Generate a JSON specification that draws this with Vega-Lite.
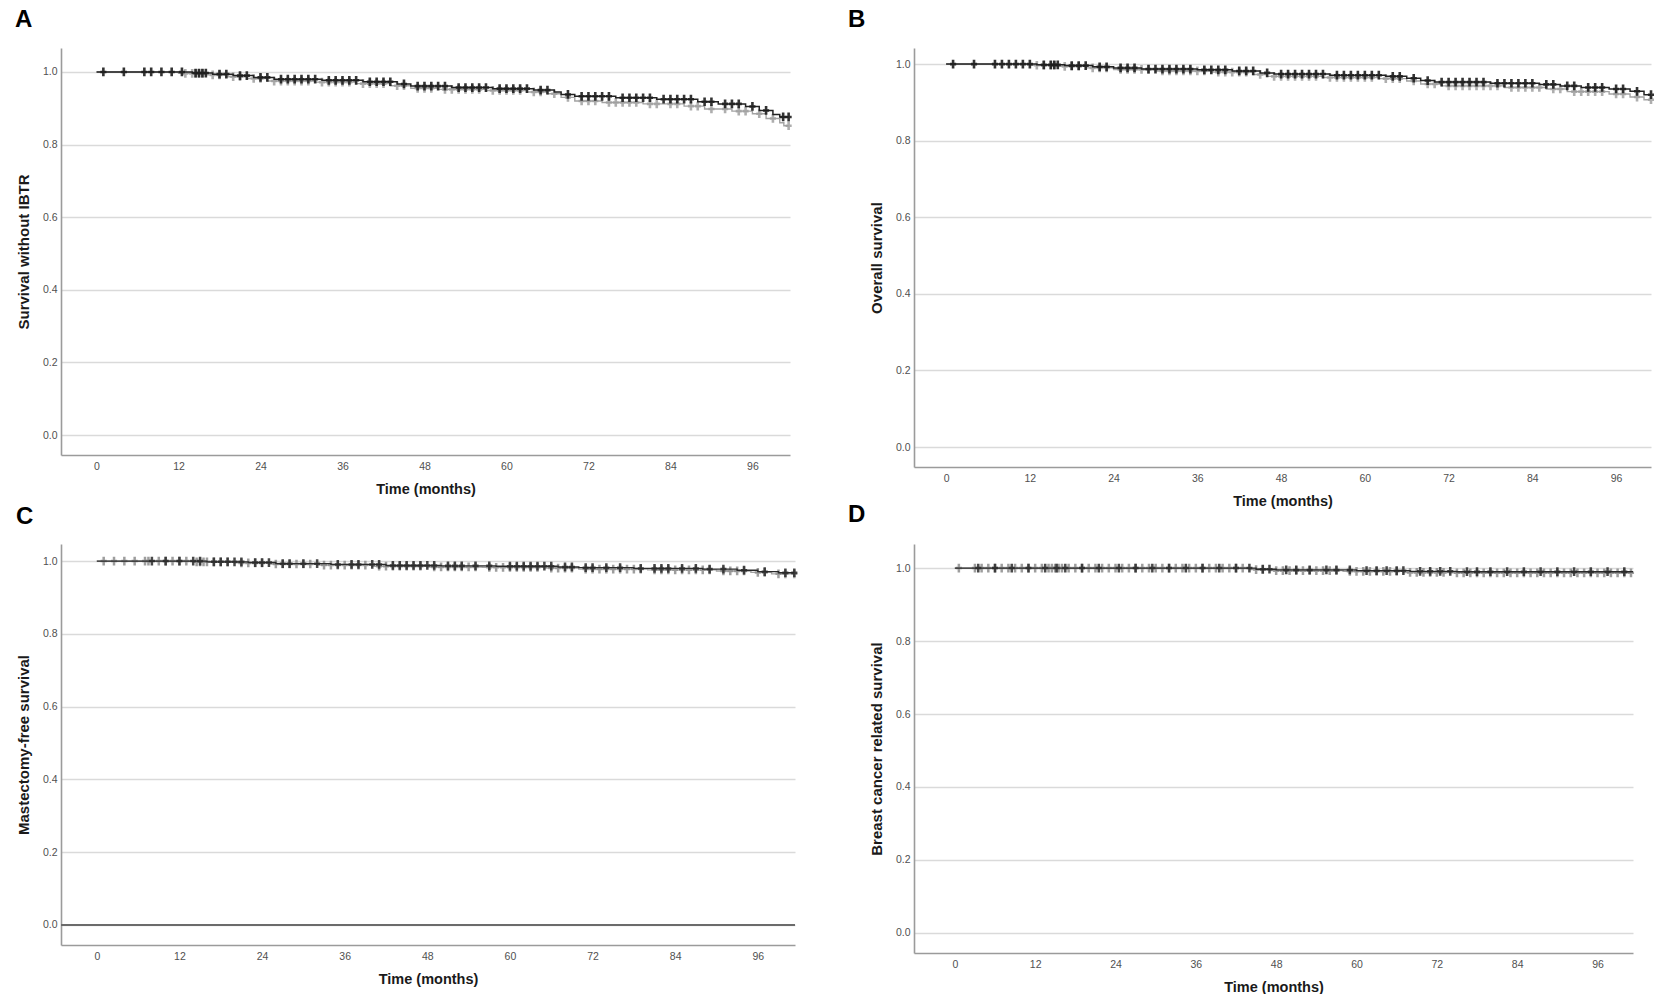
{
  "$schema": "https://vega.github.io/schema/vega-lite/v6.json",
  "padding": {"left": 15, "top": 8, "right": 0, "bottom": 0},
  "columns": 2,
  "bounds": "flush",
  "spacing": {"row": 77, "column": 119},
  "datasets": {
    "A": [
      {"g":"gray","t":0,"s":1,"c":0},{"g":"gray","t":12,"s":0.996,"c":0},{"g":"gray","t":13,"s":0.996,"c":1},{"g":"gray","t":14,"s":0.996,"c":1},{"g":"gray","t":14.5,"s":0.996,"c":1},{"g":"gray","t":15,"s":0.996,"c":1},{"g":"gray","t":15.5,"s":0.996,"c":1},{"g":"gray","t":16,"s":0.992,"c":0},{"g":"gray","t":17,"s":0.992,"c":1},{"g":"gray","t":18,"s":0.992,"c":1},{"g":"gray","t":19,"s":0.987,"c":0},{"g":"gray","t":20,"s":0.987,"c":1},{"g":"gray","t":21,"s":0.987,"c":1},{"g":"gray","t":22,"s":0.982,"c":0},{"g":"gray","t":23,"s":0.982,"c":1},{"g":"gray","t":24,"s":0.982,"c":1},{"g":"gray","t":25,"s":0.975,"c":0},{"g":"gray","t":26,"s":0.975,"c":1},{"g":"gray","t":27,"s":0.975,"c":1},{"g":"gray","t":28,"s":0.975,"c":1},{"g":"gray","t":29,"s":0.975,"c":1},{"g":"gray","t":30,"s":0.975,"c":1},{"g":"gray","t":31,"s":0.975,"c":1},{"g":"gray","t":32,"s":0.972,"c":0},{"g":"gray","t":33,"s":0.972,"c":1},{"g":"gray","t":34,"s":0.972,"c":1},{"g":"gray","t":35,"s":0.972,"c":1},{"g":"gray","t":36,"s":0.972,"c":1},{"g":"gray","t":37,"s":0.972,"c":1},{"g":"gray","t":38,"s":0.968,"c":0},{"g":"gray","t":39,"s":0.968,"c":1},{"g":"gray","t":40,"s":0.968,"c":1},{"g":"gray","t":41,"s":0.968,"c":1},{"g":"gray","t":42,"s":0.968,"c":1},{"g":"gray","t":43,"s":0.962,"c":0},{"g":"gray","t":44,"s":0.962,"c":1},{"g":"gray","t":45,"s":0.962,"c":1},{"g":"gray","t":46,"s":0.955,"c":0},{"g":"gray","t":47,"s":0.955,"c":1},{"g":"gray","t":48,"s":0.955,"c":1},{"g":"gray","t":49,"s":0.955,"c":1},{"g":"gray","t":50,"s":0.952,"c":0},{"g":"gray","t":51,"s":0.952,"c":1},{"g":"gray","t":52,"s":0.952,"c":1},{"g":"gray","t":53,"s":0.952,"c":1},{"g":"gray","t":54,"s":0.952,"c":1},{"g":"gray","t":55,"s":0.952,"c":1},{"g":"gray","t":56,"s":0.952,"c":1},{"g":"gray","t":57,"s":0.949,"c":0},{"g":"gray","t":58,"s":0.949,"c":1},{"g":"gray","t":59,"s":0.949,"c":1},{"g":"gray","t":60,"s":0.949,"c":1},{"g":"gray","t":61,"s":0.949,"c":1},{"g":"gray","t":62,"s":0.949,"c":1},{"g":"gray","t":63,"s":0.945,"c":0},{"g":"gray","t":64,"s":0.945,"c":1},{"g":"gray","t":65,"s":0.945,"c":1},{"g":"gray","t":66,"s":0.94,"c":0},{"g":"gray","t":67,"s":0.94,"c":1},{"g":"gray","t":68,"s":0.93,"c":0},{"g":"gray","t":69,"s":0.93,"c":1},{"g":"gray","t":70,"s":0.92,"c":0},{"g":"gray","t":71,"s":0.92,"c":1},{"g":"gray","t":72,"s":0.92,"c":1},{"g":"gray","t":73,"s":0.92,"c":1},{"g":"gray","t":74,"s":0.916,"c":0},{"g":"gray","t":75,"s":0.916,"c":1},{"g":"gray","t":76,"s":0.916,"c":1},{"g":"gray","t":77,"s":0.916,"c":1},{"g":"gray","t":78,"s":0.916,"c":1},{"g":"gray","t":79,"s":0.916,"c":1},{"g":"gray","t":80,"s":0.912,"c":0},{"g":"gray","t":81,"s":0.912,"c":1},{"g":"gray","t":82,"s":0.912,"c":1},{"g":"gray","t":84,"s":0.912,"c":1},{"g":"gray","t":85,"s":0.912,"c":1},{"g":"gray","t":86,"s":0.906,"c":0},{"g":"gray","t":87,"s":0.906,"c":1},{"g":"gray","t":88,"s":0.906,"c":1},{"g":"gray","t":89,"s":0.898,"c":0},{"g":"gray","t":90,"s":0.898,"c":1},{"g":"gray","t":92,"s":0.898,"c":1},{"g":"gray","t":93,"s":0.892,"c":0},{"g":"gray","t":94,"s":0.892,"c":1},{"g":"gray","t":95,"s":0.892,"c":1},{"g":"gray","t":96,"s":0.885,"c":0},{"g":"gray","t":97,"s":0.885,"c":1},{"g":"gray","t":98,"s":0.872,"c":0},{"g":"gray","t":99,"s":0.872,"c":1},{"g":"gray","t":100,"s":0.86,"c":0},{"g":"gray","t":100.6,"s":0.852,"c":0},{"g":"gray","t":101.3,"s":0.852,"c":1},
      {"g":"black","t":0,"s":1,"c":0},{"g":"black","t":1,"s":1,"c":1},{"g":"black","t":4,"s":1,"c":1},{"g":"black","t":7,"s":1,"c":1},{"g":"black","t":8,"s":1,"c":1},{"g":"black","t":9.5,"s":1,"c":1},{"g":"black","t":11,"s":1,"c":1},{"g":"black","t":12.5,"s":1,"c":1},{"g":"black","t":14,"s":0.997,"c":0},{"g":"black","t":14.5,"s":0.997,"c":1},{"g":"black","t":15,"s":0.997,"c":1},{"g":"black","t":15.5,"s":0.997,"c":1},{"g":"black","t":16,"s":0.997,"c":1},{"g":"black","t":17,"s":0.994,"c":0},{"g":"black","t":18,"s":0.994,"c":1},{"g":"black","t":19,"s":0.994,"c":1},{"g":"black","t":20,"s":0.99,"c":0},{"g":"black","t":21,"s":0.99,"c":1},{"g":"black","t":22,"s":0.99,"c":1},{"g":"black","t":23,"s":0.985,"c":0},{"g":"black","t":24,"s":0.985,"c":1},{"g":"black","t":25,"s":0.985,"c":1},{"g":"black","t":26,"s":0.98,"c":0},{"g":"black","t":27,"s":0.98,"c":1},{"g":"black","t":28,"s":0.98,"c":1},{"g":"black","t":29,"s":0.98,"c":1},{"g":"black","t":30,"s":0.98,"c":1},{"g":"black","t":31,"s":0.98,"c":1},{"g":"black","t":32,"s":0.98,"c":1},{"g":"black","t":33,"s":0.977,"c":0},{"g":"black","t":34,"s":0.977,"c":1},{"g":"black","t":35,"s":0.977,"c":1},{"g":"black","t":36,"s":0.977,"c":1},{"g":"black","t":37,"s":0.977,"c":1},{"g":"black","t":38,"s":0.977,"c":1},{"g":"black","t":39,"s":0.973,"c":0},{"g":"black","t":40,"s":0.973,"c":1},{"g":"black","t":41,"s":0.973,"c":1},{"g":"black","t":42,"s":0.973,"c":1},{"g":"black","t":43,"s":0.973,"c":1},{"g":"black","t":44,"s":0.967,"c":0},{"g":"black","t":45,"s":0.967,"c":1},{"g":"black","t":46,"s":0.961,"c":0},{"g":"black","t":47,"s":0.961,"c":1},{"g":"black","t":48,"s":0.961,"c":1},{"g":"black","t":49,"s":0.961,"c":1},{"g":"black","t":50,"s":0.961,"c":1},{"g":"black","t":51,"s":0.961,"c":1},{"g":"black","t":52,"s":0.957,"c":0},{"g":"black","t":53,"s":0.957,"c":1},{"g":"black","t":54,"s":0.957,"c":1},{"g":"black","t":55,"s":0.957,"c":1},{"g":"black","t":56,"s":0.957,"c":1},{"g":"black","t":57,"s":0.957,"c":1},{"g":"black","t":58,"s":0.954,"c":0},{"g":"black","t":59,"s":0.954,"c":1},{"g":"black","t":60,"s":0.954,"c":1},{"g":"black","t":61,"s":0.954,"c":1},{"g":"black","t":62,"s":0.954,"c":1},{"g":"black","t":63,"s":0.954,"c":1},{"g":"black","t":64,"s":0.95,"c":0},{"g":"black","t":65,"s":0.95,"c":1},{"g":"black","t":66,"s":0.95,"c":1},{"g":"black","t":67,"s":0.945,"c":0},{"g":"black","t":68,"s":0.938,"c":0},{"g":"black","t":69,"s":0.938,"c":1},{"g":"black","t":70,"s":0.933,"c":0},{"g":"black","t":71,"s":0.933,"c":1},{"g":"black","t":72,"s":0.933,"c":1},{"g":"black","t":73,"s":0.933,"c":1},{"g":"black","t":74,"s":0.933,"c":1},{"g":"black","t":75,"s":0.933,"c":1},{"g":"black","t":76,"s":0.929,"c":0},{"g":"black","t":77,"s":0.929,"c":1},{"g":"black","t":78,"s":0.929,"c":1},{"g":"black","t":79,"s":0.929,"c":1},{"g":"black","t":80,"s":0.929,"c":1},{"g":"black","t":81,"s":0.929,"c":1},{"g":"black","t":82,"s":0.925,"c":0},{"g":"black","t":83,"s":0.925,"c":1},{"g":"black","t":84,"s":0.925,"c":1},{"g":"black","t":85,"s":0.925,"c":1},{"g":"black","t":86,"s":0.925,"c":1},{"g":"black","t":87,"s":0.925,"c":1},{"g":"black","t":88,"s":0.918,"c":0},{"g":"black","t":89,"s":0.918,"c":1},{"g":"black","t":90,"s":0.918,"c":1},{"g":"black","t":91,"s":0.912,"c":0},{"g":"black","t":92,"s":0.912,"c":1},{"g":"black","t":93,"s":0.912,"c":1},{"g":"black","t":94,"s":0.912,"c":1},{"g":"black","t":95,"s":0.905,"c":0},{"g":"black","t":96,"s":0.905,"c":1},{"g":"black","t":97,"s":0.894,"c":0},{"g":"black","t":98,"s":0.894,"c":1},{"g":"black","t":99,"s":0.883,"c":0},{"g":"black","t":100,"s":0.876,"c":0},{"g":"black","t":100.5,"s":0.876,"c":1},{"g":"black","t":101.3,"s":0.876,"c":1}
    ],
    "B": [
      {"g":"gray","t":0,"s":1,"c":0},{"g":"gray","t":12,"s":0.997,"c":0},{"g":"gray","t":13,"s":0.997,"c":1},{"g":"gray","t":14,"s":0.997,"c":1},{"g":"gray","t":15,"s":0.997,"c":1},{"g":"gray","t":15.5,"s":0.997,"c":1},{"g":"gray","t":16,"s":0.994,"c":0},{"g":"gray","t":17,"s":0.994,"c":1},{"g":"gray","t":18,"s":0.994,"c":1},{"g":"gray","t":19,"s":0.994,"c":1},{"g":"gray","t":20,"s":0.99,"c":0},{"g":"gray","t":21,"s":0.99,"c":1},{"g":"gray","t":22,"s":0.99,"c":1},{"g":"gray","t":23,"s":0.99,"c":1},{"g":"gray","t":24,"s":0.986,"c":0},{"g":"gray","t":25,"s":0.986,"c":1},{"g":"gray","t":26,"s":0.986,"c":1},{"g":"gray","t":27,"s":0.986,"c":1},{"g":"gray","t":28,"s":0.986,"c":1},{"g":"gray","t":29,"s":0.986,"c":1},{"g":"gray","t":30,"s":0.982,"c":0},{"g":"gray","t":31,"s":0.982,"c":1},{"g":"gray","t":32,"s":0.982,"c":1},{"g":"gray","t":33,"s":0.982,"c":1},{"g":"gray","t":34,"s":0.982,"c":1},{"g":"gray","t":35,"s":0.982,"c":1},{"g":"gray","t":36,"s":0.982,"c":1},{"g":"gray","t":37,"s":0.982,"c":1},{"g":"gray","t":38,"s":0.979,"c":0},{"g":"gray","t":39,"s":0.979,"c":1},{"g":"gray","t":40,"s":0.979,"c":1},{"g":"gray","t":41,"s":0.979,"c":1},{"g":"gray","t":42,"s":0.979,"c":1},{"g":"gray","t":43,"s":0.979,"c":1},{"g":"gray","t":44,"s":0.973,"c":0},{"g":"gray","t":45,"s":0.973,"c":1},{"g":"gray","t":46,"s":0.968,"c":0},{"g":"gray","t":47,"s":0.968,"c":1},{"g":"gray","t":48,"s":0.968,"c":1},{"g":"gray","t":49,"s":0.968,"c":1},{"g":"gray","t":50,"s":0.968,"c":1},{"g":"gray","t":51,"s":0.968,"c":1},{"g":"gray","t":52,"s":0.968,"c":1},{"g":"gray","t":53,"s":0.968,"c":1},{"g":"gray","t":54,"s":0.965,"c":0},{"g":"gray","t":55,"s":0.965,"c":1},{"g":"gray","t":56,"s":0.965,"c":1},{"g":"gray","t":57,"s":0.965,"c":1},{"g":"gray","t":58,"s":0.965,"c":1},{"g":"gray","t":59,"s":0.965,"c":1},{"g":"gray","t":60,"s":0.965,"c":1},{"g":"gray","t":61,"s":0.965,"c":1},{"g":"gray","t":62,"s":0.962,"c":0},{"g":"gray","t":63,"s":0.962,"c":1},{"g":"gray","t":64,"s":0.962,"c":1},{"g":"gray","t":65,"s":0.962,"c":1},{"g":"gray","t":66,"s":0.956,"c":0},{"g":"gray","t":67,"s":0.956,"c":1},{"g":"gray","t":68,"s":0.948,"c":0},{"g":"gray","t":69,"s":0.948,"c":1},{"g":"gray","t":70,"s":0.948,"c":1},{"g":"gray","t":71,"s":0.943,"c":0},{"g":"gray","t":72,"s":0.943,"c":1},{"g":"gray","t":73,"s":0.943,"c":1},{"g":"gray","t":74,"s":0.943,"c":1},{"g":"gray","t":75,"s":0.943,"c":1},{"g":"gray","t":76,"s":0.943,"c":1},{"g":"gray","t":77,"s":0.943,"c":1},{"g":"gray","t":78,"s":0.943,"c":1},{"g":"gray","t":79,"s":0.943,"c":1},{"g":"gray","t":80,"s":0.939,"c":0},{"g":"gray","t":81,"s":0.939,"c":1},{"g":"gray","t":82,"s":0.939,"c":1},{"g":"gray","t":83,"s":0.939,"c":1},{"g":"gray","t":84,"s":0.939,"c":1},{"g":"gray","t":85,"s":0.939,"c":1},{"g":"gray","t":86,"s":0.935,"c":0},{"g":"gray","t":87,"s":0.935,"c":1},{"g":"gray","t":88,"s":0.935,"c":1},{"g":"gray","t":89,"s":0.928,"c":0},{"g":"gray","t":90,"s":0.928,"c":1},{"g":"gray","t":91,"s":0.928,"c":1},{"g":"gray","t":92,"s":0.928,"c":1},{"g":"gray","t":93,"s":0.928,"c":1},{"g":"gray","t":94,"s":0.928,"c":1},{"g":"gray","t":95,"s":0.922,"c":0},{"g":"gray","t":96,"s":0.922,"c":1},{"g":"gray","t":97,"s":0.922,"c":1},{"g":"gray","t":98,"s":0.914,"c":0},{"g":"gray","t":99,"s":0.914,"c":1},{"g":"gray","t":100,"s":0.907,"c":0},{"g":"gray","t":101,"s":0.907,"c":1},
      {"g":"black","t":0,"s":1,"c":0},{"g":"black","t":1,"s":1,"c":1},{"g":"black","t":4,"s":1,"c":1},{"g":"black","t":7,"s":1,"c":1},{"g":"black","t":8,"s":1,"c":1},{"g":"black","t":9,"s":1,"c":1},{"g":"black","t":10,"s":1,"c":1},{"g":"black","t":11,"s":1,"c":1},{"g":"black","t":12,"s":1,"c":1},{"g":"black","t":13,"s":0.998,"c":0},{"g":"black","t":14,"s":0.998,"c":1},{"g":"black","t":15,"s":0.998,"c":1},{"g":"black","t":15.5,"s":0.998,"c":1},{"g":"black","t":16,"s":0.998,"c":1},{"g":"black","t":17,"s":0.996,"c":0},{"g":"black","t":18,"s":0.996,"c":1},{"g":"black","t":19,"s":0.996,"c":1},{"g":"black","t":20,"s":0.996,"c":1},{"g":"black","t":21,"s":0.993,"c":0},{"g":"black","t":22,"s":0.993,"c":1},{"g":"black","t":23,"s":0.993,"c":1},{"g":"black","t":24,"s":0.99,"c":0},{"g":"black","t":25,"s":0.99,"c":1},{"g":"black","t":26,"s":0.99,"c":1},{"g":"black","t":27,"s":0.99,"c":1},{"g":"black","t":28,"s":0.987,"c":0},{"g":"black","t":29,"s":0.987,"c":1},{"g":"black","t":30,"s":0.987,"c":1},{"g":"black","t":31,"s":0.987,"c":1},{"g":"black","t":32,"s":0.987,"c":1},{"g":"black","t":33,"s":0.987,"c":1},{"g":"black","t":34,"s":0.987,"c":1},{"g":"black","t":35,"s":0.987,"c":1},{"g":"black","t":36,"s":0.985,"c":0},{"g":"black","t":37,"s":0.985,"c":1},{"g":"black","t":38,"s":0.985,"c":1},{"g":"black","t":39,"s":0.985,"c":1},{"g":"black","t":40,"s":0.985,"c":1},{"g":"black","t":41,"s":0.982,"c":0},{"g":"black","t":42,"s":0.982,"c":1},{"g":"black","t":43,"s":0.982,"c":1},{"g":"black","t":44,"s":0.982,"c":1},{"g":"black","t":45,"s":0.977,"c":0},{"g":"black","t":46,"s":0.977,"c":1},{"g":"black","t":47,"s":0.974,"c":0},{"g":"black","t":48,"s":0.974,"c":1},{"g":"black","t":49,"s":0.974,"c":1},{"g":"black","t":50,"s":0.974,"c":1},{"g":"black","t":51,"s":0.974,"c":1},{"g":"black","t":52,"s":0.974,"c":1},{"g":"black","t":53,"s":0.974,"c":1},{"g":"black","t":54,"s":0.974,"c":1},{"g":"black","t":55,"s":0.971,"c":0},{"g":"black","t":56,"s":0.971,"c":1},{"g":"black","t":57,"s":0.971,"c":1},{"g":"black","t":58,"s":0.971,"c":1},{"g":"black","t":59,"s":0.971,"c":1},{"g":"black","t":60,"s":0.971,"c":1},{"g":"black","t":61,"s":0.971,"c":1},{"g":"black","t":62,"s":0.971,"c":1},{"g":"black","t":63,"s":0.968,"c":0},{"g":"black","t":64,"s":0.968,"c":1},{"g":"black","t":65,"s":0.968,"c":1},{"g":"black","t":66,"s":0.963,"c":0},{"g":"black","t":67,"s":0.963,"c":1},{"g":"black","t":68,"s":0.957,"c":0},{"g":"black","t":69,"s":0.957,"c":1},{"g":"black","t":70,"s":0.953,"c":0},{"g":"black","t":71,"s":0.953,"c":1},{"g":"black","t":72,"s":0.953,"c":1},{"g":"black","t":73,"s":0.953,"c":1},{"g":"black","t":74,"s":0.953,"c":1},{"g":"black","t":75,"s":0.953,"c":1},{"g":"black","t":76,"s":0.953,"c":1},{"g":"black","t":77,"s":0.953,"c":1},{"g":"black","t":78,"s":0.95,"c":0},{"g":"black","t":79,"s":0.95,"c":1},{"g":"black","t":80,"s":0.95,"c":1},{"g":"black","t":81,"s":0.95,"c":1},{"g":"black","t":82,"s":0.95,"c":1},{"g":"black","t":83,"s":0.95,"c":1},{"g":"black","t":84,"s":0.95,"c":1},{"g":"black","t":85,"s":0.947,"c":0},{"g":"black","t":86,"s":0.947,"c":1},{"g":"black","t":87,"s":0.947,"c":1},{"g":"black","t":88,"s":0.943,"c":0},{"g":"black","t":89,"s":0.943,"c":1},{"g":"black","t":90,"s":0.943,"c":1},{"g":"black","t":91,"s":0.939,"c":0},{"g":"black","t":92,"s":0.939,"c":1},{"g":"black","t":93,"s":0.939,"c":1},{"g":"black","t":94,"s":0.939,"c":1},{"g":"black","t":95,"s":0.935,"c":0},{"g":"black","t":96,"s":0.935,"c":1},{"g":"black","t":97,"s":0.935,"c":1},{"g":"black","t":98,"s":0.929,"c":0},{"g":"black","t":99,"s":0.929,"c":1},{"g":"black","t":100,"s":0.92,"c":0},{"g":"black","t":101,"s":0.92,"c":1}
    ],
    "C": [
      {"g":"gray","t":0,"s":1,"c":0},{"g":"gray","t":1,"s":1,"c":1},{"g":"gray","t":2.5,"s":1,"c":1},{"g":"gray","t":4,"s":1,"c":1},{"g":"gray","t":5.5,"s":1,"c":1},{"g":"gray","t":7,"s":1,"c":1},{"g":"gray","t":7.5,"s":1,"c":1},{"g":"gray","t":9,"s":1,"c":1},{"g":"gray","t":10,"s":1,"c":1},{"g":"gray","t":11,"s":1,"c":1},{"g":"gray","t":12,"s":1,"c":1},{"g":"gray","t":13,"s":1,"c":1},{"g":"gray","t":14,"s":0.998,"c":0},{"g":"gray","t":14.5,"s":0.998,"c":1},{"g":"gray","t":15,"s":0.998,"c":1},{"g":"gray","t":15.5,"s":0.998,"c":1},{"g":"gray","t":16,"s":0.998,"c":1},{"g":"gray","t":17,"s":0.998,"c":1},{"g":"gray","t":18,"s":0.998,"c":1},{"g":"gray","t":19,"s":0.998,"c":1},{"g":"gray","t":20,"s":0.995,"c":0},{"g":"gray","t":21,"s":0.995,"c":1},{"g":"gray","t":22,"s":0.995,"c":1},{"g":"gray","t":23,"s":0.995,"c":1},{"g":"gray","t":24,"s":0.995,"c":1},{"g":"gray","t":25,"s":0.992,"c":0},{"g":"gray","t":26,"s":0.992,"c":1},{"g":"gray","t":27,"s":0.992,"c":1},{"g":"gray","t":28,"s":0.992,"c":1},{"g":"gray","t":29,"s":0.992,"c":1},{"g":"gray","t":30,"s":0.992,"c":1},{"g":"gray","t":31,"s":0.992,"c":1},{"g":"gray","t":32,"s":0.989,"c":0},{"g":"gray","t":33,"s":0.989,"c":1},{"g":"gray","t":34,"s":0.989,"c":1},{"g":"gray","t":35,"s":0.989,"c":1},{"g":"gray","t":36,"s":0.989,"c":1},{"g":"gray","t":37,"s":0.989,"c":1},{"g":"gray","t":38,"s":0.989,"c":1},{"g":"gray","t":39,"s":0.989,"c":1},{"g":"gray","t":40,"s":0.986,"c":0},{"g":"gray","t":41,"s":0.986,"c":1},{"g":"gray","t":42,"s":0.986,"c":1},{"g":"gray","t":43,"s":0.986,"c":1},{"g":"gray","t":44,"s":0.986,"c":1},{"g":"gray","t":45,"s":0.986,"c":1},{"g":"gray","t":46,"s":0.986,"c":1},{"g":"gray","t":47,"s":0.986,"c":1},{"g":"gray","t":48,"s":0.984,"c":0},{"g":"gray","t":49,"s":0.984,"c":1},{"g":"gray","t":50,"s":0.984,"c":1},{"g":"gray","t":51,"s":0.984,"c":1},{"g":"gray","t":52,"s":0.984,"c":1},{"g":"gray","t":53,"s":0.984,"c":1},{"g":"gray","t":54,"s":0.984,"c":1},{"g":"gray","t":55,"s":0.984,"c":1},{"g":"gray","t":56,"s":0.983,"c":0},{"g":"gray","t":57,"s":0.983,"c":1},{"g":"gray","t":58,"s":0.983,"c":1},{"g":"gray","t":59,"s":0.983,"c":1},{"g":"gray","t":60,"s":0.983,"c":1},{"g":"gray","t":61,"s":0.983,"c":1},{"g":"gray","t":62,"s":0.983,"c":1},{"g":"gray","t":63,"s":0.983,"c":1},{"g":"gray","t":64,"s":0.983,"c":1},{"g":"gray","t":65,"s":0.981,"c":0},{"g":"gray","t":66,"s":0.981,"c":1},{"g":"gray","t":67,"s":0.981,"c":1},{"g":"gray","t":68,"s":0.981,"c":1},{"g":"gray","t":69,"s":0.981,"c":1},{"g":"gray","t":70,"s":0.978,"c":0},{"g":"gray","t":71,"s":0.978,"c":1},{"g":"gray","t":72,"s":0.978,"c":1},{"g":"gray","t":73,"s":0.978,"c":1},{"g":"gray","t":74,"s":0.978,"c":1},{"g":"gray","t":75,"s":0.978,"c":1},{"g":"gray","t":76,"s":0.978,"c":1},{"g":"gray","t":77,"s":0.978,"c":1},{"g":"gray","t":78,"s":0.978,"c":1},{"g":"gray","t":79,"s":0.978,"c":1},{"g":"gray","t":80,"s":0.976,"c":0},{"g":"gray","t":81,"s":0.976,"c":1},{"g":"gray","t":82,"s":0.976,"c":1},{"g":"gray","t":83,"s":0.976,"c":1},{"g":"gray","t":84,"s":0.976,"c":1},{"g":"gray","t":85,"s":0.976,"c":1},{"g":"gray","t":86,"s":0.976,"c":1},{"g":"gray","t":87,"s":0.976,"c":1},{"g":"gray","t":88,"s":0.976,"c":1},{"g":"gray","t":89,"s":0.976,"c":1},{"g":"gray","t":90,"s":0.973,"c":0},{"g":"gray","t":91,"s":0.973,"c":1},{"g":"gray","t":92,"s":0.973,"c":1},{"g":"gray","t":93,"s":0.973,"c":1},{"g":"gray","t":94,"s":0.973,"c":1},{"g":"gray","t":95,"s":0.969,"c":0},{"g":"gray","t":96,"s":0.969,"c":1},{"g":"gray","t":97,"s":0.969,"c":1},{"g":"gray","t":98,"s":0.965,"c":0},{"g":"gray","t":99,"s":0.965,"c":1},{"g":"gray","t":100,"s":0.965,"c":1},{"g":"gray","t":101.3,"s":0.965,"c":1},
      {"g":"black","t":0,"s":1,"c":0},{"g":"black","t":8,"s":1,"c":1},{"g":"black","t":10,"s":1,"c":1},{"g":"black","t":12,"s":1,"c":1},{"g":"black","t":14,"s":1,"c":1},{"g":"black","t":15,"s":1,"c":1},{"g":"black","t":16,"s":0.998,"c":0},{"g":"black","t":17,"s":0.998,"c":1},{"g":"black","t":18,"s":0.998,"c":1},{"g":"black","t":19,"s":0.998,"c":1},{"g":"black","t":20,"s":0.998,"c":1},{"g":"black","t":21,"s":0.998,"c":1},{"g":"black","t":22,"s":0.996,"c":0},{"g":"black","t":23,"s":0.996,"c":1},{"g":"black","t":24,"s":0.996,"c":1},{"g":"black","t":25,"s":0.996,"c":1},{"g":"black","t":26,"s":0.993,"c":0},{"g":"black","t":27,"s":0.993,"c":1},{"g":"black","t":28,"s":0.993,"c":1},{"g":"black","t":30,"s":0.993,"c":1},{"g":"black","t":32,"s":0.993,"c":1},{"g":"black","t":34,"s":0.991,"c":0},{"g":"black","t":35,"s":0.991,"c":1},{"g":"black","t":37,"s":0.991,"c":1},{"g":"black","t":38,"s":0.991,"c":1},{"g":"black","t":40,"s":0.991,"c":1},{"g":"black","t":41,"s":0.991,"c":1},{"g":"black","t":42,"s":0.988,"c":0},{"g":"black","t":43,"s":0.988,"c":1},{"g":"black","t":44,"s":0.988,"c":1},{"g":"black","t":45,"s":0.988,"c":1},{"g":"black","t":46,"s":0.988,"c":1},{"g":"black","t":47,"s":0.988,"c":1},{"g":"black","t":48,"s":0.988,"c":1},{"g":"black","t":49,"s":0.988,"c":1},{"g":"black","t":50,"s":0.987,"c":0},{"g":"black","t":51,"s":0.987,"c":1},{"g":"black","t":52,"s":0.987,"c":1},{"g":"black","t":53,"s":0.987,"c":1},{"g":"black","t":55,"s":0.987,"c":1},{"g":"black","t":57,"s":0.987,"c":1},{"g":"black","t":58,"s":0.986,"c":0},{"g":"black","t":60,"s":0.986,"c":1},{"g":"black","t":61,"s":0.986,"c":1},{"g":"black","t":62,"s":0.986,"c":1},{"g":"black","t":63,"s":0.986,"c":1},{"g":"black","t":64,"s":0.986,"c":1},{"g":"black","t":65,"s":0.986,"c":1},{"g":"black","t":66,"s":0.986,"c":1},{"g":"black","t":67,"s":0.984,"c":0},{"g":"black","t":68,"s":0.984,"c":1},{"g":"black","t":69,"s":0.984,"c":1},{"g":"black","t":70,"s":0.982,"c":0},{"g":"black","t":71,"s":0.982,"c":1},{"g":"black","t":72,"s":0.982,"c":1},{"g":"black","t":74,"s":0.982,"c":1},{"g":"black","t":76,"s":0.982,"c":1},{"g":"black","t":78,"s":0.98,"c":0},{"g":"black","t":79,"s":0.98,"c":1},{"g":"black","t":81,"s":0.98,"c":1},{"g":"black","t":82,"s":0.98,"c":1},{"g":"black","t":83,"s":0.98,"c":1},{"g":"black","t":85,"s":0.98,"c":1},{"g":"black","t":87,"s":0.98,"c":1},{"g":"black","t":88,"s":0.978,"c":0},{"g":"black","t":89,"s":0.978,"c":1},{"g":"black","t":91,"s":0.978,"c":1},{"g":"black","t":93,"s":0.975,"c":0},{"g":"black","t":94,"s":0.975,"c":1},{"g":"black","t":96,"s":0.971,"c":0},{"g":"black","t":97,"s":0.971,"c":1},{"g":"black","t":99,"s":0.968,"c":0},{"g":"black","t":100,"s":0.968,"c":1},{"g":"black","t":101.3,"s":0.968,"c":1}
    ],
    "D": [
      {"g":"gray","t":0,"s":1,"c":0},{"g":"gray","t":0.6,"s":1,"c":1},{"g":"gray","t":3,"s":1,"c":1},{"g":"gray","t":4,"s":1,"c":1},{"g":"gray","t":5,"s":1,"c":1},{"g":"gray","t":6,"s":1,"c":1},{"g":"gray","t":7,"s":1,"c":1},{"g":"gray","t":8,"s":1,"c":1},{"g":"gray","t":9,"s":1,"c":1},{"g":"gray","t":10,"s":1,"c":1},{"g":"gray","t":11,"s":1,"c":1},{"g":"gray","t":12,"s":1,"c":1},{"g":"gray","t":13,"s":1,"c":1},{"g":"gray","t":14,"s":1,"c":1},{"g":"gray","t":14.5,"s":1,"c":1},{"g":"gray","t":15,"s":1,"c":1},{"g":"gray","t":15.5,"s":1,"c":1},{"g":"gray","t":16,"s":1,"c":1},{"g":"gray","t":17,"s":1,"c":1},{"g":"gray","t":18,"s":1,"c":1},{"g":"gray","t":19,"s":1,"c":1},{"g":"gray","t":20,"s":1,"c":1},{"g":"gray","t":21,"s":1,"c":1},{"g":"gray","t":22,"s":1,"c":1},{"g":"gray","t":23,"s":1,"c":1},{"g":"gray","t":24,"s":1,"c":1},{"g":"gray","t":25,"s":1,"c":1},{"g":"gray","t":26,"s":1,"c":1},{"g":"gray","t":27,"s":1,"c":1},{"g":"gray","t":28,"s":1,"c":1},{"g":"gray","t":29,"s":1,"c":1},{"g":"gray","t":30,"s":1,"c":1},{"g":"gray","t":31,"s":1,"c":1},{"g":"gray","t":32,"s":1,"c":1},{"g":"gray","t":33,"s":1,"c":1},{"g":"gray","t":34,"s":1,"c":1},{"g":"gray","t":35,"s":1,"c":1},{"g":"gray","t":36,"s":1,"c":1},{"g":"gray","t":37,"s":1,"c":1},{"g":"gray","t":38,"s":1,"c":1},{"g":"gray","t":39,"s":1,"c":1},{"g":"gray","t":40,"s":1,"c":1},{"g":"gray","t":41,"s":1,"c":1},{"g":"gray","t":42,"s":1,"c":1},{"g":"gray","t":43,"s":1,"c":1},{"g":"gray","t":44,"s":0.996,"c":0},{"g":"gray","t":45,"s":0.996,"c":1},{"g":"gray","t":46,"s":0.996,"c":1},{"g":"gray","t":47,"s":0.993,"c":0},{"g":"gray","t":48,"s":0.993,"c":1},{"g":"gray","t":49,"s":0.993,"c":1},{"g":"gray","t":50,"s":0.993,"c":1},{"g":"gray","t":51,"s":0.993,"c":1},{"g":"gray","t":52,"s":0.993,"c":1},{"g":"gray","t":53,"s":0.993,"c":1},{"g":"gray","t":54,"s":0.993,"c":1},{"g":"gray","t":55,"s":0.993,"c":1},{"g":"gray","t":56,"s":0.993,"c":1},{"g":"gray","t":57,"s":0.993,"c":1},{"g":"gray","t":58,"s":0.991,"c":0},{"g":"gray","t":59,"s":0.991,"c":1},{"g":"gray","t":60,"s":0.991,"c":1},{"g":"gray","t":61,"s":0.991,"c":1},{"g":"gray","t":62,"s":0.991,"c":1},{"g":"gray","t":63,"s":0.991,"c":1},{"g":"gray","t":64,"s":0.991,"c":1},{"g":"gray","t":65,"s":0.991,"c":1},{"g":"gray","t":66,"s":0.991,"c":1},{"g":"gray","t":67,"s":0.988,"c":0},{"g":"gray","t":68,"s":0.988,"c":1},{"g":"gray","t":69,"s":0.988,"c":1},{"g":"gray","t":70,"s":0.988,"c":1},{"g":"gray","t":71,"s":0.988,"c":1},{"g":"gray","t":72,"s":0.988,"c":1},{"g":"gray","t":73,"s":0.988,"c":1},{"g":"gray","t":74,"s":0.987,"c":0},{"g":"gray","t":75,"s":0.987,"c":1},{"g":"gray","t":76,"s":0.987,"c":1},{"g":"gray","t":77,"s":0.987,"c":1},{"g":"gray","t":78,"s":0.987,"c":1},{"g":"gray","t":79,"s":0.987,"c":1},{"g":"gray","t":80,"s":0.987,"c":1},{"g":"gray","t":81,"s":0.987,"c":1},{"g":"gray","t":82,"s":0.987,"c":1},{"g":"gray","t":83,"s":0.987,"c":1},{"g":"gray","t":84,"s":0.987,"c":1},{"g":"gray","t":85,"s":0.987,"c":1},{"g":"gray","t":86,"s":0.987,"c":1},{"g":"gray","t":87,"s":0.987,"c":1},{"g":"gray","t":88,"s":0.987,"c":1},{"g":"gray","t":89,"s":0.987,"c":1},{"g":"gray","t":90,"s":0.987,"c":1},{"g":"gray","t":91,"s":0.987,"c":1},{"g":"gray","t":92,"s":0.987,"c":1},{"g":"gray","t":93,"s":0.987,"c":1},{"g":"gray","t":94,"s":0.987,"c":1},{"g":"gray","t":95,"s":0.987,"c":1},{"g":"gray","t":96,"s":0.987,"c":1},{"g":"gray","t":97,"s":0.987,"c":1},{"g":"gray","t":98,"s":0.987,"c":1},{"g":"gray","t":99,"s":0.987,"c":1},{"g":"gray","t":100,"s":0.987,"c":1},{"g":"gray","t":101,"s":0.987,"c":1},
      {"g":"black","t":0,"s":1,"c":0},{"g":"black","t":3.5,"s":1,"c":1},{"g":"black","t":6,"s":1,"c":1},{"g":"black","t":8.5,"s":1,"c":1},{"g":"black","t":11,"s":1,"c":1},{"g":"black","t":13.5,"s":1,"c":1},{"g":"black","t":15.2,"s":1,"c":1},{"g":"black","t":16.5,"s":1,"c":1},{"g":"black","t":19,"s":1,"c":1},{"g":"black","t":21.5,"s":1,"c":1},{"g":"black","t":24.5,"s":1,"c":1},{"g":"black","t":27,"s":1,"c":1},{"g":"black","t":29.5,"s":1,"c":1},{"g":"black","t":32,"s":1,"c":1},{"g":"black","t":34.5,"s":1,"c":1},{"g":"black","t":37,"s":1,"c":1},{"g":"black","t":39.5,"s":1,"c":1},{"g":"black","t":42,"s":1,"c":1},{"g":"black","t":44,"s":1,"c":1},{"g":"black","t":45,"s":0.997,"c":0},{"g":"black","t":46,"s":0.997,"c":1},{"g":"black","t":47,"s":0.997,"c":1},{"g":"black","t":48,"s":0.995,"c":0},{"g":"black","t":49.5,"s":0.995,"c":1},{"g":"black","t":51,"s":0.995,"c":1},{"g":"black","t":53,"s":0.995,"c":1},{"g":"black","t":55.5,"s":0.995,"c":1},{"g":"black","t":57,"s":0.995,"c":1},{"g":"black","t":59,"s":0.995,"c":1},{"g":"black","t":60,"s":0.993,"c":0},{"g":"black","t":61.5,"s":0.993,"c":1},{"g":"black","t":63,"s":0.993,"c":1},{"g":"black","t":64.5,"s":0.993,"c":1},{"g":"black","t":66,"s":0.993,"c":1},{"g":"black","t":67,"s":0.993,"c":1},{"g":"black","t":68,"s":0.991,"c":0},{"g":"black","t":69.5,"s":0.991,"c":1},{"g":"black","t":71,"s":0.991,"c":1},{"g":"black","t":72.5,"s":0.991,"c":1},{"g":"black","t":74,"s":0.991,"c":1},{"g":"black","t":75,"s":0.99,"c":0},{"g":"black","t":76.5,"s":0.99,"c":1},{"g":"black","t":78,"s":0.99,"c":1},{"g":"black","t":80,"s":0.99,"c":1},{"g":"black","t":82.5,"s":0.99,"c":1},{"g":"black","t":85,"s":0.99,"c":1},{"g":"black","t":87.5,"s":0.99,"c":1},{"g":"black","t":90,"s":0.99,"c":1},{"g":"black","t":92.5,"s":0.99,"c":1},{"g":"black","t":95,"s":0.99,"c":1},{"g":"black","t":97.5,"s":0.99,"c":1},{"g":"black","t":100,"s":0.99,"c":1},{"g":"black","t":101.3,"s":0.99,"c":0}
    ]
  },
  "concat": [
    {
      "width": 729,
      "height": 407,
      "title": {"text": "A", "dx": -46, "dy": -2},
      "data": {"name": "A"},
      "encoding": {
        "x": {"field": "t", "type": "quantitative", "scale": {"domain": [-5.2, 101.5], "nice": false, "zero": false}, "axis": {"values": [0, 12, 24, 36, 48, 60, 72, 84, 96], "title": "Time (months)"}},
        "y": {"field": "s", "type": "quantitative", "scale": {"domain": [-0.055, 1.066], "nice": false, "zero": false}, "axis": {"values": [0, 0.2, 0.4, 0.6, 0.8, 1], "format": ".1f", "title": "Survival without IBTR"}}
      },
      "layer": [
        {"transform": [{"filter": "datum.g == 'gray'"}], "mark": {"type": "line", "interpolate": "step-after", "color": "#a3a3a3", "strokeWidth": 1.4}},
        {"transform": [{"filter": "datum.g == 'gray' && datum.c == 1"}], "mark": {"type": "point", "shape": "M0,-1V1M-0.7,0H0.7", "size": 76, "filled": false, "color": "#a0a0a0", "strokeWidth": 2.6, "opacity": 0.85}},
        {"transform": [{"filter": "datum.g == 'black'"}], "mark": {"type": "line", "interpolate": "step-after", "color": "#222222", "strokeWidth": 1.5}},
        {"transform": [{"filter": "datum.g == 'black' && datum.c == 1"}], "mark": {"type": "point", "shape": "M0,-1V1M-0.7,0H0.7", "size": 76, "filled": false, "color": "#1e1e1e", "strokeWidth": 2.6, "opacity": 0.9}}
      ]
    },
    {
      "width": 737,
      "height": 419,
      "title": {"text": "B", "dx": -66, "dy": -2},
      "data": {"name": "B"},
      "encoding": {
        "x": {"field": "t", "type": "quantitative", "scale": {"domain": [-4.6, 101], "nice": false, "zero": false}, "axis": {"values": [0, 12, 24, 36, 48, 60, 72, 84, 96], "title": "Time (months)"}},
        "y": {"field": "s", "type": "quantitative", "scale": {"domain": [-0.052, 1.042], "nice": false, "zero": false}, "axis": {"values": [0, 0.2, 0.4, 0.6, 0.8, 1], "format": ".1f", "title": "Overall survival"}}
      },
      "layer": [
        {"transform": [{"filter": "datum.g == 'gray'"}], "mark": {"type": "line", "interpolate": "step-after", "color": "#a3a3a3", "strokeWidth": 1.4}},
        {"transform": [{"filter": "datum.g == 'gray' && datum.c == 1"}], "mark": {"type": "point", "shape": "M0,-1V1M-0.7,0H0.7", "size": 76, "filled": false, "color": "#a0a0a0", "strokeWidth": 2.6, "opacity": 0.85}},
        {"transform": [{"filter": "datum.g == 'black'"}], "mark": {"type": "line", "interpolate": "step-after", "color": "#222222", "strokeWidth": 1.5}},
        {"transform": [{"filter": "datum.g == 'black' && datum.c == 1"}], "mark": {"type": "point", "shape": "M0,-1V1M-0.7,0H0.7", "size": 76, "filled": false, "color": "#1e1e1e", "strokeWidth": 2.6, "opacity": 0.9}}
      ]
    },
    {
      "width": 734,
      "height": 401,
      "title": {"text": "C", "dx": -45, "dy": -1},
      "data": {"name": "C"},
      "layer": [
        {"mark": {"type": "rule", "color": "#6b6b6b", "strokeWidth": 2},
         "encoding": {"y": {"datum": 0, "type": "quantitative", "scale": {"domain": [-0.055, 1.047], "nice": false, "zero": false}}}},
        {"transform": [{"filter": "datum.g == 'gray'"}], "mark": {"type": "line", "interpolate": "step-after", "color": "#a3a3a3", "strokeWidth": 1.4},
         "encoding": {
           "x": {"field": "t", "type": "quantitative", "scale": {"domain": [-5.2, 101.4], "nice": false, "zero": false}, "axis": {"values": [0, 12, 24, 36, 48, 60, 72, 84, 96], "title": "Time (months)"}},
           "y": {"field": "s", "type": "quantitative", "axis": {"values": [0, 0.2, 0.4, 0.6, 0.8, 1], "format": ".1f", "title": "Mastectomy-free survival"}}
         }},
        {"transform": [{"filter": "datum.g == 'gray' && datum.c == 1"}], "mark": {"type": "point", "shape": "M0,-1V1M-0.7,0H0.7", "size": 76, "filled": false, "color": "#8e8e8e", "strokeWidth": 2.5, "opacity": 0.85},
         "encoding": {"x": {"field": "t", "type": "quantitative"}, "y": {"field": "s", "type": "quantitative"}}},
        {"transform": [{"filter": "datum.g == 'black'"}], "mark": {"type": "line", "interpolate": "step-after", "color": "#2a2a2a", "strokeWidth": 1.4},
         "encoding": {"x": {"field": "t", "type": "quantitative"}, "y": {"field": "s", "type": "quantitative"}}},
        {"transform": [{"filter": "datum.g == 'black' && datum.c == 1"}], "mark": {"type": "point", "shape": "M0,-1V1M-0.7,0H0.7", "size": 76, "filled": false, "color": "#2a2a2a", "strokeWidth": 2.5, "opacity": 0.85},
         "encoding": {"x": {"field": "t", "type": "quantitative"}, "y": {"field": "s", "type": "quantitative"}}}
      ]
    },
    {
      "width": 719,
      "height": 409,
      "title": {"text": "D", "dx": -66, "dy": -3},
      "data": {"name": "D"},
      "encoding": {
        "x": {"field": "t", "type": "quantitative", "scale": {"domain": [-6.1, 101.3], "nice": false, "zero": false}, "axis": {"values": [0, 12, 24, 36, 48, 60, 72, 84, 96], "title": "Time (months)"}},
        "y": {"field": "s", "type": "quantitative", "scale": {"domain": [-0.055, 1.066], "nice": false, "zero": false}, "axis": {"values": [0, 0.2, 0.4, 0.6, 0.8, 1], "format": ".1f", "title": "Breast cancer related survival"}}
      },
      "layer": [
        {"transform": [{"filter": "datum.g == 'gray'"}], "mark": {"type": "line", "interpolate": "step-after", "color": "#a3a3a3", "strokeWidth": 1.4}},
        {"transform": [{"filter": "datum.g == 'gray' && datum.c == 1"}], "mark": {"type": "point", "shape": "M0,-1V1M-0.7,0H0.7", "size": 76, "filled": false, "color": "#8e8e8e", "strokeWidth": 2.5, "opacity": 0.85}},
        {"transform": [{"filter": "datum.g == 'black'"}], "mark": {"type": "line", "interpolate": "step-after", "color": "#2a2a2a", "strokeWidth": 1.4}},
        {"transform": [{"filter": "datum.g == 'black' && datum.c == 1"}], "mark": {"type": "point", "shape": "M0,-1V1M-0.7,0H0.7", "size": 76, "filled": false, "color": "#2a2a2a", "strokeWidth": 2.5, "opacity": 0.85}}
      ]
    }
  ],
  "config": {
    "view": {"stroke": null},
    "font": "Liberation Sans",
    "axis": {
      "ticks": false,
      "domainColor": "#9b9b9b",
      "domainWidth": 1.6,
      "labelFont": "Liberation Sans",
      "labelFontSize": 10.5,
      "labelColor": "#505050",
      "titleFont": "Liberation Sans",
      "titleFontSize": 15,
      "titleFontWeight": "bold",
      "titleColor": "#1a1a1a",
      "gridColor": "#dadada",
      "gridWidth": 1.4
    },
    "axisX": {"grid": false, "labelPadding": 6, "titlePadding": 11, "titleFontSize": 14.5},
    "axisY": {"grid": true, "labelPadding": 4, "titlePadding": 11},
    "title": {"anchor": "start", "frame": "group", "font": "Liberation Sans", "fontSize": 24, "fontWeight": "bold", "color": "#000000", "offset": 14}
  }
}
